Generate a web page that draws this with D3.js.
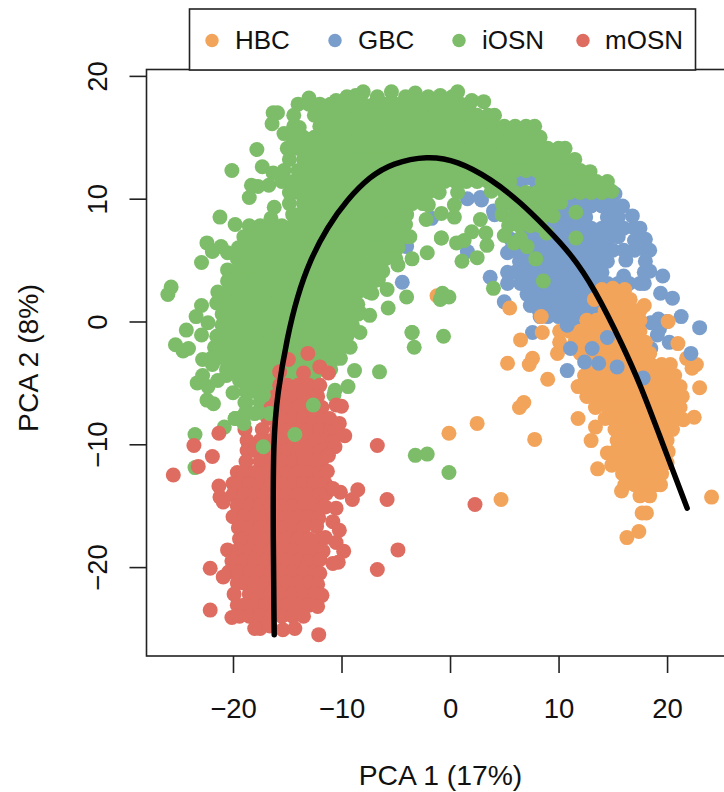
<!DOCTYPE html>
<html>
<head>
<meta charset="utf-8">
<script src="https://cdn.jsdelivr.net/npm/d3@7"></script>
<style>
  html, body { margin: 0; padding: 0; background: #fff; overflow: hidden; }
  svg text { font-family: "Liberation Sans", Arial, sans-serif; fill: #111; }
</style>
</head>
<body>
<svg id="chart" width="724" height="792"></svg>
<script>
// values, PCA units. Inside the solid blobs the single
// dots can't be told apart, so those ones are estimates that fill the blob.
const labels = ['HBC', 'GBC', 'iOSN', 'mOSN'];
const colors = ['#f3a45b', '#7a9ecb', '#7dbd69', '#de6c60'];
const xTicks = [-20, -10, 0, 10, 20];
const yTicks = [-20, -10, 0, 10, 20];

const gbc = [
[1.6,10],[2.8,10.1],[4,9],[6.5,11.3],[7.4,11.7],[8,10.9],[1.6,5.7],[4.1,8.7],[2.9,9.9],[-1.7,8.4],[-4,6.1],[-4.4,3.2],
[10.5,10.3],[11.5,10.3],[12.5,10.3],[13.5,10.3],[14.5,10.3],[15.2,10.4],
[9.7,9.4],[10,9.4],[11,9.4],[12,9.4],[13,9.4],[14,9.4],[15,9.4],[15.9,9.4],
[8.8,8.5],[9.5,8.5],[10.5,8.5],[11.5,8.5],[12.5,8.5],[14.5,8.5],[15.5,8.5],[16.8,8.6],
[7.4,7.6],[8,7.6],[9,7.6],[10,7.6],[11,7.6],[12,7.6],[13,7.6],[14,7.6],[15,7.6],[16,7.6],[17,7.6],[17.5,7.6],
[5.6,6.7],[6.5,6.7],[7.5,6.7],[8.5,6.7],[9.5,6.7],[10.5,6.7],[11.5,6.7],[12.5,6.7],[13.5,6.7],[14.5,6.7],[15.5,6.9],[17,6.6],[18,6.7],
[5.6,5.8],[6,5.8],[7,5.8],[8,5.8],[9,5.8],[10,5.8],[11,5.8],[12,5.8],[13,5.8],[14,5.8],[15,5.8],[16,5.8],[17,5.8],[18,5.8],[18.4,5.8],
[6.4,4.9],[7.5,4.9],[8.5,4.9],[9.5,4.9],[10.5,4.9],[11.5,4.9],[12.5,4.9],[13.5,4.9],[14.5,4.9],[16.2,5],[18,4.9],
[6,4],[7,4],[8,4],[9,4],[10,4],[11,4],[12,4],[13,4],[14,4],[16,3.7],[17.9,4],[18.4,4.1],
[6.5,3.1],[7.5,3.1],[8.5,3.1],[9.5,3.1],[10.5,3.1],[11.5,3.1],[12.5,3.1],[13.5,3.1],[14.5,3.1],[15.5,3.1],[16.5,3.1],[17.5,3.1],
[7.1,2.2],[8,2.2],[9,2.2],[10,2.2],[11,2.2],[12,2.2],[13,2.2],[14,2.2],[15,2.2],[15.5,2.2],[19.4,2.3],[20.5,1.9],
[7.4,1.3],[8.5,1.3],[9.5,1.3],[10.5,1.3],[11.5,1.3],[12.5,1.3],[13.5,1.3],
[8.3,0.4],[9,0.4],[10,0.4],[11,0.4],[12,0.4],[13,0.4],[21.3,0.4],
[10.8,-0.4],[11.5,-0.4],[12.5,-0.4],
[3.7,3.6],[5.3,5.6],[5.3,4],[5.3,3.1],[5,1.6],[8.2,0.9],[7.6,-0.9],[19.6,3.7],[17.9,3.1],[23,-0.5],[20.2,-1.7],[19.1,-1.1],[18.5,-0.1],[18.5,-2.2],[19.2,0.2],[20,0],[19.3,-0.6]
];

const hbc = [
[14,2.6],[15,2.7],[16.1,2.6],
[13.3,1.8],[14.5,1.8],[15.5,1.8],[16.6,1.8],
[14.3,0.9],[15,0.9],[16,0.9],[17,0.9],[17.5,0.9],
[12.6,0.1],[13.5,0.1],[14.5,0.1],[15.5,0.1],[16.5,0.1],[17.5,0.1],
[10.1,-0.8],[11,-0.8],[12,-0.8],[13,-0.8],[14,-0.8],[15,-0.8],[16,-0.8],[17,-0.8],[17.5,-0.8],
[10.1,-1.7],[11.5,-1.7],[12.5,-1.7],[13.5,-1.7],[14.5,-1.7],[15.5,-1.7],[16.5,-1.7],[17.5,-1.7],[18,-1.7],
[12,-2.6],[13,-2.6],[14,-2.6],[15,-2.6],[16,-2.6],[17,-2.6],[18,-2.6],[18.4,-2.6],
[12.9,-3.5],[13.5,-3.5],[14.5,-3.5],[15.5,-3.5],[16.5,-3.5],[17.5,-3.5],[18.5,-3.5],[19.5,-3.5],[20.3,-3.5],
[12.4,-4.4],[13,-4.4],[14,-4.4],[15,-4.4],[16,-4.4],[17,-4.4],[18,-4.4],[19,-4.4],[20,-4.4],[20.7,-4.4],
[11.8,-5.3],[12.5,-5.3],[13.5,-5.3],[14.5,-5.3],[15.5,-5.3],[16.5,-5.3],[17.5,-5.3],[18.5,-5.3],[19.5,-5.3],[20.5,-5.3],[21.2,-5.3],
[12.6,-6.1],[13,-6.1],[14,-6.1],[15,-6.1],[16,-6.1],[17,-6.1],[18,-6.1],[19,-6.1],[20,-6.1],[21,-6.1],[21.4,-6.1],
[13.4,-7],[14.5,-7],[15.5,-7],[16.5,-7],[17.5,-7],[18.5,-7],[19.5,-7],[20.5,-7],[21.2,-7],
[14.3,-7.9],[15,-7.9],[16,-7.9],[17,-7.9],[18,-7.9],[19,-7.9],[20,-7.9],[21,-7.9],
[15.2,-8.8],[15.5,-8.8],[16.5,-8.8],[17.5,-8.8],[18.5,-8.8],[19.5,-8.8],[20.5,-8.8],
[15.4,-9.7],[16,-9.7],[17,-9.7],[18,-9.7],[19,-9.7],[20,-9.7],
[15.2,-10.6],[15.5,-10.6],[16.5,-10.6],[17.5,-10.6],[18.5,-10.6],[19.5,-10.6],[20.1,-10.6],
[15.7,-11.5],[16,-11.5],[17,-11.5],[18,-11.5],[19,-11.5],[20,-11.5],
[15.9,-12.4],[16.5,-12.4],[17.5,-12.4],[18.5,-12.4],[19.5,-12.4],
[16.1,-13.3],[17,-13.3],[18,-13.3],[19,-13.3],[19.4,-13.3],
[17.5,-14.2],[18.4,-14.2],
[11.8,-7.9],[13.4,-8.6],[13,-9.7],[14.5,-10.7],[14.9,-11.7],[13.6,-12],[15.8,-13.8],[17.7,-15.6],[18.1,-15.6],[17.4,-17.1],[16.3,-17.6],
[24.1,-14.3],[22.5,-7.8],[21.5,-8],[23,-5.4],[6.8,-6.6],[6.4,-7],[7.8,-9.6],[2.5,-8.3],[-0.1,-9.1],[4.7,-14.5],
[6.5,-1.5],[8.5,-0.9],[8.4,0.4],[5.5,1.1],[5.3,-3.4],[7.6,-3],[7.3,-3.5],[9,-4.7],[9.9,-2.6],
[20.1,0],[21,-1.8],[21.8,-3],[22.7,-3.5],[22.3,-3.8],[17.9,1.3],[-1.2,2.1]
];

// blue dots that sit on top of the orange
const gbcOver = [
[10.8,-0.3],[11.1,-2.2],[10.8,-4],[13.1,-2.2],[13.7,-3.4],[15.4,-3.7],[12.4,-3.3],[17.8,-4.6],[14.5,-1.3],[22.2,-2.6]
];

const iosn = [
[-13,18.2],[-10.5,18],[-9.5,18.3],[-8.7,18.4],[-8,18.7],[-6.7,18.3],[-5.4,18.7],[-4.1,18.3],[-3.2,18.6],[-2,18.3],[-0.9,18.4],[0.2,18.3],[0.7,18.7],[2,18],[3.1,17.9],
[-14,17.7],[-13,17.7],[-12,17.7],[-11,17.7],[-10,17.7],[-9,17.7],[-8,17.7],[-7,17.7],[-6,17.7],[-5,17.7],[-4,17.7],[-3,17.7],[-2,17.7],[-1,17.7],[0,17.7],[1,17.7],[1.8,17.7],
[-16.3,17],[-15.9,17],[-16.4,16.1],[-14.4,16.8],[-12.5,16.8],[-11.5,16.8],[-10.5,16.8],[-9.5,16.8],[-8.5,16.8],[-7.5,16.8],[-6.5,16.8],[-5.5,16.8],[-4.5,16.8],[-3.5,16.8],[-2.5,16.8],[-1.5,16.8],[-0.5,16.8],[0.5,16.8],[1.5,16.8],[2.5,16.8],[3.5,16.8],[4.1,16.8],
[-14.4,15.9],[-13.9,15.8],[-12,15.9],[-11,15.9],[-10,15.9],[-9,15.9],[-8,15.9],[-7,15.9],[-6,15.9],[-5,15.9],[-4,15.9],[-3,15.9],[-2,15.9],[-1,15.9],[0,15.9],[1,15.9],[2,15.9],[3,15.9],[4,15.9],[5,15.9],[6,15.9],[7,15.9],[7.8,15.9],
[-15.3,15.3],[-14.5,15],[-13.5,15],[-12.5,15],[-11.5,15],[-10.5,15],[-9.5,15],[-8.5,15],[-7.5,15],[-6.5,15],[-5.5,15],[-4.5,15],[-3.5,15],[-2.5,15],[-1.5,15],[-0.5,15],[0.5,15],[1.5,15],[2.5,15],[3.5,15],[4.5,15],[5.5,15],[6.5,15],[7.5,15],[8.3,15],
[-15,14.1],[-14,14.1],[-13,14.1],[-12,14.1],[-11,14.1],[-10,14.1],[-9,14.1],[-8,14.1],[-7,14.1],[-6,14.1],[-5,14.1],[-4,14.1],[-3,14.1],[-2,14.1],[-1,14.1],[0,14.1],[1,14.1],[2,14.1],[3,14.1],[4,14.1],[5,14.1],[6,14.1],[7,14.1],[8,14.1],[9,14.1],[10,14.1],[10.6,14.1],
[-17.8,14],[-14.8,13.2],[-13.5,13.2],[-12.5,13.2],[-11.5,13.2],[-10.5,13.2],[-9.5,13.2],[-8.5,13.2],[-7.5,13.2],[-6.5,13.2],[-5.5,13.2],[-4.5,13.2],[-3.5,13.2],[-2.5,13.2],[-1.5,13.2],[-0.5,13.2],[0.5,13.2],[1.5,13.2],[2.5,13.2],[3.5,13.2],[4.5,13.2],[5.5,13.2],[6.5,13.2],[7.5,13.2],[8.5,13.2],[9.5,13.2],[10.5,13.2],[11.5,13.2],
[-20.1,12.3],[-17.3,12.6],[-16.3,12.1],[-15.3,12.3],[-14,12.3],[-13,12.3],[-12,12.3],[-11,12.3],[-10,12.3],[-9,12.3],[-8,12.3],[-7,12.3],[-6,12.3],[-5,12.3],[-4,12.3],[-3,12.3],[-2,12.3],[-1,12.3],[0,12.3],[1,12.3],[2,12.3],[3,12.3],[4,12.3],[5,12.3],[6,12.3],[7,12.3],[8,12.3],[9,12.3],[10,12.3],[11,12.3],[12,12.3],[12.9,12.2],
[-18.3,11.1],[-17.7,11],[-16.7,11.1],[-15.5,11.4],[-14.5,11.4],[-13.5,11.4],[-12.5,11.4],[-11.5,11.4],[-10.5,11.4],[-9.5,11.4],[-8.5,11.4],[-7.5,11.4],[-6.5,11.4],[-5.5,11.4],[-4.5,11.4],[-3.5,11.4],[-2.5,11.4],[-1.5,11.4],[-0.5,11.4],[0.5,11.4],[1.5,11.4],[2.5,11.4],[3.5,11.4],[4.5,11.4],[5.5,11.4],[8.5,11.4],[9.5,11.4],[10.5,11.4],[11.5,11.4],[12.5,11.4],[13.5,11.4],[14.5,11.4],
[-18.5,10.1],[-14.8,10.5],[-14,10.5],[-13,10.5],[-12,10.5],[-11,10.5],[-10,10.5],[-9,10.5],[-8,10.5],[-7,10.5],[-6,10.5],[-5,10.5],[-4,10.5],[-3,10.5],[-2,10.5],[-1,10.5],[0.7,10.5],[3.8,10.6],[5,10.5],[6,10.5],[7,10.5],[8,10.5],[9,10.5],[10,10.5],[11,10.5],[12,10.5],[13,10.5],[14,10.5],[14.9,10.6],
[-16.2,9.3],[-14.8,9.6],[-13.5,9.6],[-12.5,9.6],[-11.5,9.6],[-10.5,9.6],[-9.5,9.6],[-8.5,9.6],[-7.5,9.6],[-6.5,9.6],[-5.5,9.6],[-4.5,9.6],[-3.5,9.6],[-2.5,9.6],[-2,9.5],[0.4,9.5],[4.8,9.6],[5.5,9.6],[6.5,9.6],[7.5,9.6],[8.5,9.6],[9.5,9.6],[10.2,9.7],
[-21.2,8.5],[-16.5,8.4],[-14.5,8.7],[-14,8.7],[-13,8.7],[-12,8.7],[-11,8.7],[-10,8.7],[-9,8.7],[-8,8.7],[-7,8.7],[-6,8.7],[-5,8.7],[-4,8.7],[-2.2,8.3],[-0.8,8.8],[0.4,8.5],[4.8,8.7],[6,8.7],[7,8.7],[8,8.7],[9,8.7],[9.5,8.6],[2.8,8.3],
[-19.8,7.9],[-18.5,7.8],[-17.5,7.8],[-16.5,7.8],[-15.5,7.8],[-14.5,7.8],[-13.5,7.8],[-12.5,7.8],[-11.5,7.8],[-10.5,7.8],[-9.5,7.8],[-8.5,7.8],[-7.5,7.8],[-6.5,7.8],[-5.5,7.8],[-4.5,7.8],[-4.1,7.9],[5.4,7.8],[6.4,7.8],[7.4,7.8],[8.3,7.8],
[-22.4,6.4],[-19,6.9],[-18,6.9],[-17,6.9],[-16,6.9],[-15,6.9],[-14,6.9],[-13,6.9],[-12,6.9],[-11,6.9],[-10,6.9],[-9,6.9],[-8,6.9],[-7,6.9],[-6,6.9],[-5,6.9],[-4,6.9],[-3.7,6.9],[-0.8,6.8],[2,7.3],[3.3,7.2],[5,7],[6.5,6.8],[8.9,7.2],[11.6,8.9],[11.6,6.8],
[-21.9,5.7],[-21.1,6.1],[-20.5,5.6],[-19.5,6],[-18.5,6],[-17.5,6],[-16.5,6],[-15.5,6],[-14.5,6],[-13.5,6],[-12.5,6],[-11.5,6],[-10.5,6],[-9.5,6],[-8.5,6],[-7.5,6],[-6.5,6],[-5.5,6],[-4.8,6],[-2.1,5.6],[1.3,6.6],[0.6,6.4],[3.4,6.2],[5.9,6.4],[7.1,6.1],
[-22.9,4.8],[-19.6,5.1],[-19,5.1],[-18,5.1],[-17,5.1],[-16,5.1],[-15,5.1],[-14,5.1],[-13,5.1],[-12,5.1],[-11,5.1],[-10,5.1],[-9,5.1],[-8,5.1],[-7,5.1],[-6,5.1],[-5,5.1],[-3.5,5.1],[2.5,5.2],[1.1,4.9],[7.9,5.1],
[-20.5,4.2],[-19.5,4.2],[-18.5,4.2],[-17.5,4.2],[-16.5,4.2],[-15.5,4.2],[-14.5,4.2],[-13.5,4.2],[-12.5,4.2],[-11.5,4.2],[-10.5,4.2],[-9.5,4.2],[-8.5,4.2],[-7.5,4.2],[-6.5,4.2],[-6.2,4.1],[-4.8,4.6],
[-20.5,3.3],[-20,3.3],[-19,3.3],[-18,3.3],[-17,3.3],[-16,3.3],[-15,3.3],[-14,3.3],[-13,3.3],[-12,3.3],[-11,3.3],[-10,3.3],[-9,3.3],[-8,3.3],[-7,3.3],[-6.6,3.4],[8.6,3.3],
[-21.4,2.4],[-20.5,2.4],[-19.5,2.4],[-18.5,2.4],[-17.5,2.4],[-16.5,2.4],[-15.5,2.4],[-14.5,2.4],[-13.5,2.4],[-12.5,2.4],[-11.5,2.4],[-10.5,2.4],[-9.5,2.4],[-8.5,2.4],[-7.5,2.4],[-7.2,2.3],[-5.8,2.6],[-4,2],[4,2.7],
[-25.7,2.8],[-26,2.2],[-21.5,1.5],[-21,1.5],[-20,1.5],[-19,1.5],[-18,1.5],[-17,1.5],[-16,1.5],[-15,1.5],[-14,1.5],[-13,1.5],[-12,1.5],[-11,1.5],[-10,1.5],[-9,1.5],[-8.5,1.4],[-5.7,1.1],[-0.7,2.3],[-0.1,2],[-0.9,1.8],
[-22.9,1.3],[-23.4,0.4],[-21,0.6],[-20.5,0.6],[-19.5,0.6],[-18.5,0.6],[-17.5,0.6],[-16.5,0.6],[-15.5,0.6],[-14.5,0.6],[-13.5,0.6],[-12.5,0.6],[-11.5,0.6],[-10.5,0.6],[-9.5,0.6],[-8.5,0.6],[-8.3,0.7],[-7.4,0.5],
[-22.3,-0.1],[-24.3,-0.7],[-21,-0.3],[-20,-0.3],[-19,-0.3],[-18,-0.3],[-17,-0.3],[-16,-0.3],[-15,-0.3],[-14,-0.3],[-13,-0.3],[-12,-0.3],[-11,-0.3],[-10,-0.3],[-9,-0.3],
[-22.9,-1.1],[-21.5,-1.2],[-20.5,-1.2],[-19.5,-1.2],[-18.5,-1.2],[-17.5,-1.2],[-16.5,-1.2],[-15.5,-1.2],[-14.5,-1.2],[-13.5,-1.2],[-12.5,-1.2],[-11.5,-1.2],[-10.5,-1.2],[-9.5,-1.2],[-8.3,-0.9],[-3.5,-0.9],[-0.6,-1.2],
[-25.3,-1.9],[-24.1,-2.2],[-24.6,-2.4],[-21.7,-2.1],[-21,-2.1],[-20,-2.1],[-19,-2.1],[-18,-2.1],[-17,-2.1],[-16,-2.1],[-15,-2.1],[-14,-2.1],[-13,-2.1],[-12,-2.1],[-11,-2.1],[-10,-2.1],[-9.2,-2.1],[-3.3,-2.1],
[-22.8,-3.1],[-22,-3],[-21.5,-3],[-20.5,-3],[-19.5,-3],[-18.5,-3],[-17.5,-3],[-16.5,-3],[-15.5,-3],[-14.5,-3],[-13.5,-3],[-12.5,-3],[-11.5,-3],[-10.5,-3],[-10.1,-3],
[-21.9,-3.5],[-20.6,-3.9],[-20,-3.9],[-19,-3.9],[-18,-3.9],[-17,-3.9],[-16,-3.9],[-15,-3.9],[-14,-3.9],[-13,-3.9],[-12,-3.9],[-11,-3.9],[-8.8,-4],[-6.5,-4.1],
[-22.8,-4.4],[-23.3,-5],[-22.3,-5.3],[-21.4,-4.8],[-20.6,-4.4],[-19.4,-4.8],[-18.5,-4.8],[-17.5,-4.8],[-16.5,-4.8],[-15.5,-4.8],[-14.5,-4.8],[-13.5,-4.8],[-12.5,-4.8],[-9.4,-5.3],
[-22.4,-6.4],[-21.8,-6.7],[-20,-5.8],[-18.8,-5.7],[-18,-5.7],[-17,-5.7],[-16,-5.7],[-15,-5.7],[-14,-5.7],[-10.6,-5.6],[-10.7,-6],
[-18.9,-6.6],[-17.5,-6.6],[-16.5,-6.6],[-15.5,-6.6],
[-19.8,-7.9],[-18.9,-7.5],[-18,-7.5],[-17,-7.5],[-16,-7.5],
[-23.5,-9.2],[-23.5,-11.9],[-20.8,-8.6],[-3.2,-10.9],[-2.1,-10.8],[-0.1,-12.3],
[-0.8,6.8],[-3.5,-0.9]
];

const mosn = [
[-13.1,-2.6],[-14.9,-3.1],[-15.7,-4.1],[-13.5,-4.2],[-12,-3.7],[-11.2,-4.2],
[-15.7,-5.2],[-15,-5.2],[-14,-5.2],[-13,-5.2],[-12,-5.2],
[-16.1,-6.1],[-15.5,-6.1],[-14.5,-6.1],[-13.5,-6.1],[-12.5,-6.1],[-12.2,-6.1],
[-16.5,-7],[-16,-7],[-15,-7],[-14,-7],[-13,-7],[-12,-7],[-11.8,-7],
[-16.8,-7.9],[-15.5,-7.9],[-14.5,-7.9],[-13.5,-7.9],[-12.5,-7.9],[-11.5,-7.9],[-11.1,-7.9],
[-18.9,-8.8],[-17.3,-8.8],[-16,-8.8],[-15,-8.8],[-14,-8.8],[-13,-8.8],[-12,-8.8],[-11,-8.8],[-10.6,-8.9],
[-18.7,-9.7],[-17.5,-9.7],[-16.5,-9.7],[-15.5,-9.7],[-14.5,-9.7],[-13.5,-9.7],[-12.5,-9.7],[-11.5,-9.7],[-10.8,-9.8],
[-18.7,-10.5],[-18,-10.5],[-17,-10.5],[-16,-10.5],[-15,-10.5],[-14,-10.5],[-13,-10.5],[-12,-10.5],[-11.1,-10.4],
[-18.8,-11.4],[-17.5,-11.4],[-16.5,-11.4],[-15.5,-11.4],[-14.5,-11.4],[-13.5,-11.4],[-12.5,-11.4],[-11.8,-11.3],
[-19.6,-12.3],[-19,-12.3],[-18,-12.3],[-17,-12.3],[-16,-12.3],[-15,-12.3],[-14,-12.3],[-13,-12.3],[-12,-12.3],[-11.3,-12.2],
[-20,-13.2],[-19.5,-13.2],[-18.5,-13.2],[-17.5,-13.2],[-16.5,-13.2],[-15.5,-13.2],[-14.5,-13.2],[-13.5,-13.2],[-12.5,-13.2],[-11.5,-13.2],
[-20,-14.1],[-19,-14.1],[-18,-14.1],[-17,-14.1],[-16,-14.1],[-15,-14.1],[-14,-14.1],[-13,-14.1],[-12,-14.1],[-11.4,-14],
[-19.6,-15],[-18.5,-15],[-17.5,-15],[-16.5,-15],[-15.5,-15],[-14.5,-15],[-13.5,-15],[-12.5,-15],[-11.5,-15.1],
[-20,-15.9],[-19,-15.9],[-18,-15.9],[-17,-15.9],[-16,-15.9],[-15,-15.9],[-14,-15.9],[-13,-15.9],[-12.1,-16],
[-19.5,-16.8],[-18.5,-16.8],[-17.5,-16.8],[-16.5,-16.8],[-15.5,-16.8],[-14.5,-16.8],[-13.5,-16.8],[-12.3,-16.7],
[-19.4,-17.7],[-19,-17.7],[-18,-17.7],[-17,-17.7],[-16,-17.7],[-15,-17.7],[-14,-17.7],[-13,-17.7],[-12,-17.7],[-11.5,-17.6],
[-20.5,-18.6],[-19.5,-18.6],[-18.5,-18.6],[-17.5,-18.6],[-16.5,-18.6],[-15.5,-18.6],[-14.5,-18.6],[-13.5,-18.6],[-12.5,-18.6],[-11.7,-18.7],
[-20.1,-19.5],[-19,-19.5],[-18,-19.5],[-17,-19.5],[-16,-19.5],[-15,-19.5],[-14,-19.5],[-13,-19.5],[-12,-19.4],
[-20.4,-20.4],[-19.5,-20.4],[-18.5,-20.4],[-17.5,-20.4],[-16.5,-20.4],[-15.5,-20.4],[-14.5,-20.4],[-13.5,-20.4],[-12.5,-20.4],[-12,-20.5],
[-19.6,-21.3],[-19,-21.3],[-18,-21.3],[-17,-21.3],[-16,-21.3],[-15,-21.3],[-14,-21.3],[-13,-21.3],[-12.2,-21.4],
[-19.9,-22.2],[-18.5,-22.2],[-17.5,-22.2],[-16.5,-22.2],[-15.5,-22.2],[-14.5,-22.2],[-13.5,-22.2],[-12.5,-22.2],[-11.8,-22.3],
[-19.6,-23.1],[-19,-23.1],[-18,-23.1],[-17,-23.1],[-16,-23.1],[-15,-23.1],[-14,-23.1],[-13,-23.1],[-12.2,-23.2],
[-19.4,-24],[-18.5,-24],[-17.5,-24],[-16.5,-24],[-15.5,-24],[-14.5,-24],[-13.5,-24],
[-17.5,-25],[-18,-25],[-16.6,-24.8],[-15.4,-25.1],[-14.3,-25],[-12.1,-25.5],
[-10.5,-6.8],[-10,-6.9],[-10.2,-8.3],[-9.7,-9.3],[-10.6,-10.2],[-11.2,-10.9],[-6.7,-10.1],[-5.8,-14.5],[-4.8,-18.6],[-6.7,-20.2],
[-8.5,-13.7],[-9,-14.5],[-10.1,-13.9],[-10.8,-13.6],[-10.5,-15.2],[-10.8,-16.3],[-10.2,-17],[-10.5,-18],[-9.8,-18.7],[-10.3,-19.6],[-10.8,-19.7],
[-25.5,-12.5],[-23.6,-10.1],[-21.9,-11],[-23.2,-11.8],[-21.3,-9.1],[-21.3,-13.4],[-21.2,-14.3],[-20.9,-14.7],[-22.1,-20.1],[-22.1,-23.5],[-20.9,-20.8],[-20.1,-24.1],
[2.3,-14.9]
];

// green dots that sit on top of the red
const iosnOver = [
[-17.2,-10.2],[-14.3,-9.2],[-12.6,-6.8],[-19.8,-7.9],[-19,-8.3],[-17.6,-7.4],[-18.8,-6.6],[-17.2,-6],[-16.6,-7.5]
];

const curveX = [-16.2,-16.3,-16.3,-15.9,-15,-14.1,-12.9,-11.3,-9.5,-7.4,-5.3,-2.1,0.65,3.8,6.5,8.9,11.15,13.3,16,17.6,19.1,21.85];
const curveY = [-25.5,-17.8,-9.65,-5.8,-1.26,2,5,7.7,9.9,11.8,12.9,13.5,13.1,11.6,9.7,7.6,5.5,2.7,-2.1,-5.3,-8.8,-15.2];

const svg = d3.select('#chart');
const box = {left: 146.5, right: 726, top: 69.5, bottom: 656};

const x = d3.scaleLinear().domain([-27.97, 25.43]).range([box.left, box.right]);
const y = d3.scaleLinear().domain([20.52, -27.24]).range([box.top, box.bottom]);

// draw order matters here, later layers cover the earlier ones
const layers = [
  [gbc, 1], [hbc, 0], [gbcOver, 1], [iosn, 2], [mosn, 3], [iosnOver, 2]
];

layers.forEach(([pts, c]) => {
  svg.append('g').selectAll('circle')
    .data(pts)
    .enter().append('circle')
      .attr('cx', d => x(d[0]))
      .attr('cy', d => y(d[1]))
      .attr('r', 7.5)
      .attr('fill', colors[c]);
});

svg.append('path')
  .datum(d3.zip(curveX, curveY))
  .attr('fill', 'none')
  .attr('stroke', '#000')
  .attr('stroke-width', 5.5)
  .attr('stroke-linecap', 'round')
  .attr('d', d3.line().x(d => x(d[0])).y(d => y(d[1])).curve(d3.curveBasis));

svg.append('rect')
  .attr('x', box.left).attr('y', box.top)
  .attr('width', box.right - box.left).attr('height', box.bottom - box.top)
  .attr('fill', 'none').attr('stroke', '#222').attr('stroke-width', 1.6);

const fmt = d => String(d).replace('-', '\u2212');

const xAxis = svg.append('g')
  .attr('transform', `translate(0,${box.bottom})`)
  .call(d3.axisBottom(x).tickValues(xTicks).tickSize(17).tickSizeOuter(0).tickFormat(fmt));
const yAxis = svg.append('g')
  .attr('transform', `translate(${box.left},0)`)
  .call(d3.axisLeft(y).tickValues(yTicks).tickSize(17).tickSizeOuter(0).tickFormat(fmt));

[xAxis, yAxis].forEach(a => {
  a.select('.domain').remove();
  a.selectAll('.tick line').attr('stroke', '#222').attr('stroke-width', 1.6);
  a.selectAll('text').attr('font-size', 27.5).attr('font-family', '"Liberation Sans"').attr('fill', '#111');
});
xAxis.selectAll('.tick text').attr('y', 61.5).attr('dy', 0);
yAxis.selectAll('.tick text')
  .attr('x', 0).attr('dy', 0)
  .attr('text-anchor', 'middle')
  .attr('transform', 'translate(-39.5,0) rotate(-90)');

svg.append('text')
  .attr('x', 440.5).attr('y', 785)
  .attr('text-anchor', 'middle').attr('font-size', 28.3)
  .text('PCA 1 (17%)');
svg.append('text')
  .attr('transform', 'translate(37.5,358) rotate(-90)')
  .attr('text-anchor', 'middle').attr('font-size', 28.3)
  .text('PCA 2 (8%)');

// legend
svg.append('rect')
  .attr('x', 189.5).attr('y', 9).attr('width', 506).attr('height', 61)
  .attr('fill', '#fff').attr('stroke', '#222').attr('stroke-width', 1.6);

const dotX = [212, 335, 459, 583];
const textX = [235, 358, 482, 605];
labels.forEach((l, i) => {
  svg.append('circle').attr('cx', dotX[i]).attr('cy', 40.5).attr('r', 6.7).attr('fill', colors[i]);
  svg.append('text').attr('x', textX[i]).attr('y', 49).attr('font-size', 26).text(l);
});
</script>
</body>
</html>
